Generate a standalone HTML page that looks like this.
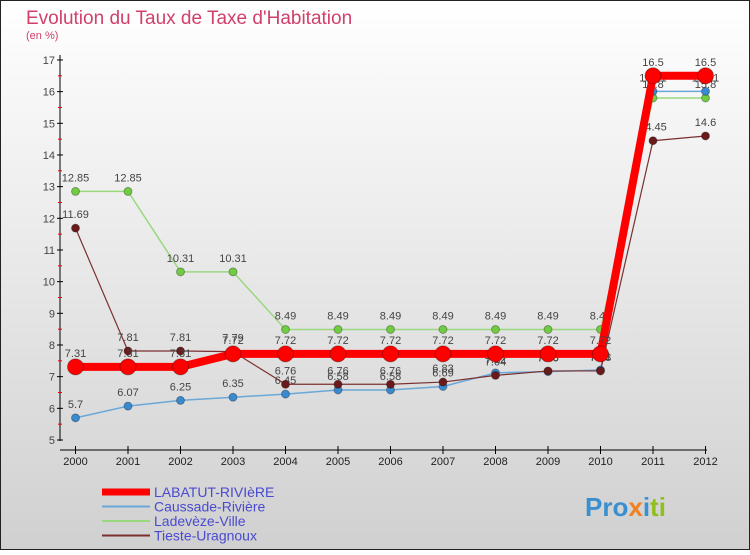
<!DOCTYPE html>
<html><head><meta charset="utf-8"><style>
body{margin:0;width:750px;height:550px;overflow:hidden;font-family:"Liberation Sans",sans-serif}
svg text{font-family:"Liberation Sans",sans-serif}
</style></head><body>
<svg id="c" width="750" height="550">
<defs><linearGradient id="bg" x1="0" y1="0" x2="0" y2="1"><stop offset="0" stop-color="#ffffff"/><stop offset="1" stop-color="#d0d0d0"/></linearGradient></defs>
<rect x="0.5" y="0.5" width="749" height="549" fill="url(#bg)" stroke="#222"/>
<text x="26" y="24" font-size="19" fill="#d0406a">Evolution du Taux de Taxe d'Habitation</text>
<text x="26" y="39" font-size="11" fill="#d0406a">(en %)</text>
<g id="axes"></g><g id="series"></g><g id="legend"></g>
<text x="585" y="516" font-size="26" font-weight="bold" fill="#3a8fd0">Pro<tspan fill="#f08020">x</tspan><tspan fill="#3a8fd0">i</tspan><tspan fill="#90c020">ti</tspan></text>
</svg>
<script>
const years=[2000,2001,2002,2003,2004,2005,2006,2007,2008,2009,2010,2011,2012];
const labatut=[7.31,7.31,7.31,7.72,7.72,7.72,7.72,7.72,7.72,7.72,7.72,16.5,16.5];
const caussade=[5.7,6.07,6.25,6.35,6.45,6.58,6.58,6.69,7.12,7.16,7.21,16.01,16.01];
const ladeveze=[12.85,12.85,10.31,10.31,8.49,8.49,8.49,8.49,8.49,8.49,8.49,15.8,15.8];
const tieste=[11.69,7.81,7.81,7.79,6.76,6.76,6.76,6.83,7.04,7.18,7.18,14.45,14.6];
const yTicks=[5,6,7,8,9,10,11,12,13,14,15,16,17];
const NS="http://www.w3.org/2000/svg";
const X=i=>75.5+i*52.5, Y=v=>440-(v-5)*31.67;
function mk(t,a,p){const e=document.createElementNS(NS,t);for(const k in a)e.setAttribute(k,a[k]);p.appendChild(e);return e;}
const ax=document.getElementById('axes');
let l=mk('line',{x1:60,y1:55,x2:60,y2:441,stroke:'#000','stroke-width':1},ax);


l=mk('line',{x1:60,y1:450,x2:707,y2:450,stroke:'#000','stroke-width':1},ax);


yTicks.forEach(v=>{
 mk('line',{x1:57,y1:Y(v),x2:63,y2:Y(v),stroke:'#000'},ax);
 if(v<17)mk('line',{x1:58,y1:Y(v+0.5),x2:62,y2:Y(v+0.5),stroke:'#e00'},ax);
 const t=mk('text',{x:55,y:Y(v)+4,'font-size':11,fill:'#444','text-anchor':'end'},ax);t.textContent=v;
 
 
});
years.forEach((y,i)=>{
 mk('line',{x1:X(i),y1:446,x2:X(i),y2:454,stroke:'#000'},ax);
 const t=mk('text',{x:X(i),y:465,'font-size':11,fill:'#222','text-anchor':'middle'},ax);t.textContent=y;
 
 
});
const sg=document.getElementById('series');
function draw(data,color,w,r,name,dot){
 const g=mk('g',{},sg);
 
 
 mk('polyline',{points:data.map((v,i)=>X(i)+','+Y(v)).join(' '),fill:'none',stroke:color,'stroke-width':w},g);
 data.forEach((v,i)=>{
  const c=mk('circle',{cx:X(i),cy:Y(v),r:r,fill:dot,stroke:'rgba(0,0,0,0.3)'},g);
  
  
  const t=mk('text',{x:X(i),y:Y(v)-10,'font-size':11,fill:'#444','text-anchor':'middle'},g);t.textContent=v;
 });
}
draw(ladeveze,'#9ad880',1.5,4,'series-ladeveze','#70cc40');
draw(caussade,'#6aa8d8',1.5,4,'series-caussade','#3a8ad0');
draw(tieste,'#7a3030',1.2,4,'series-tieste','#6a1a1a');
draw(labatut,'#ff0000',8,8,'series-labatut','#ff0000');
const lg=document.getElementById('legend');
[['LABATUT-RIVIèRE','#ff0000',7],['Caussade-Rivière','#6aa8d8',2],['Ladevèze-Ville','#9ad880',2],['Tieste-Uragnoux','#7a3030',2]].forEach((s,i)=>{
 const y=492+i*14.5;
 const g=mk('g',{},lg);
 
 
 mk('line',{x1:102,y1:y,x2:150,y2:y,stroke:s[1],'stroke-width':s[2]},g);
 const t=mk('text',{x:154,y:y+5,'font-size':14,fill:'#4a4ad0'},g);t.textContent=s[0];
});
</script>
</body></html>
